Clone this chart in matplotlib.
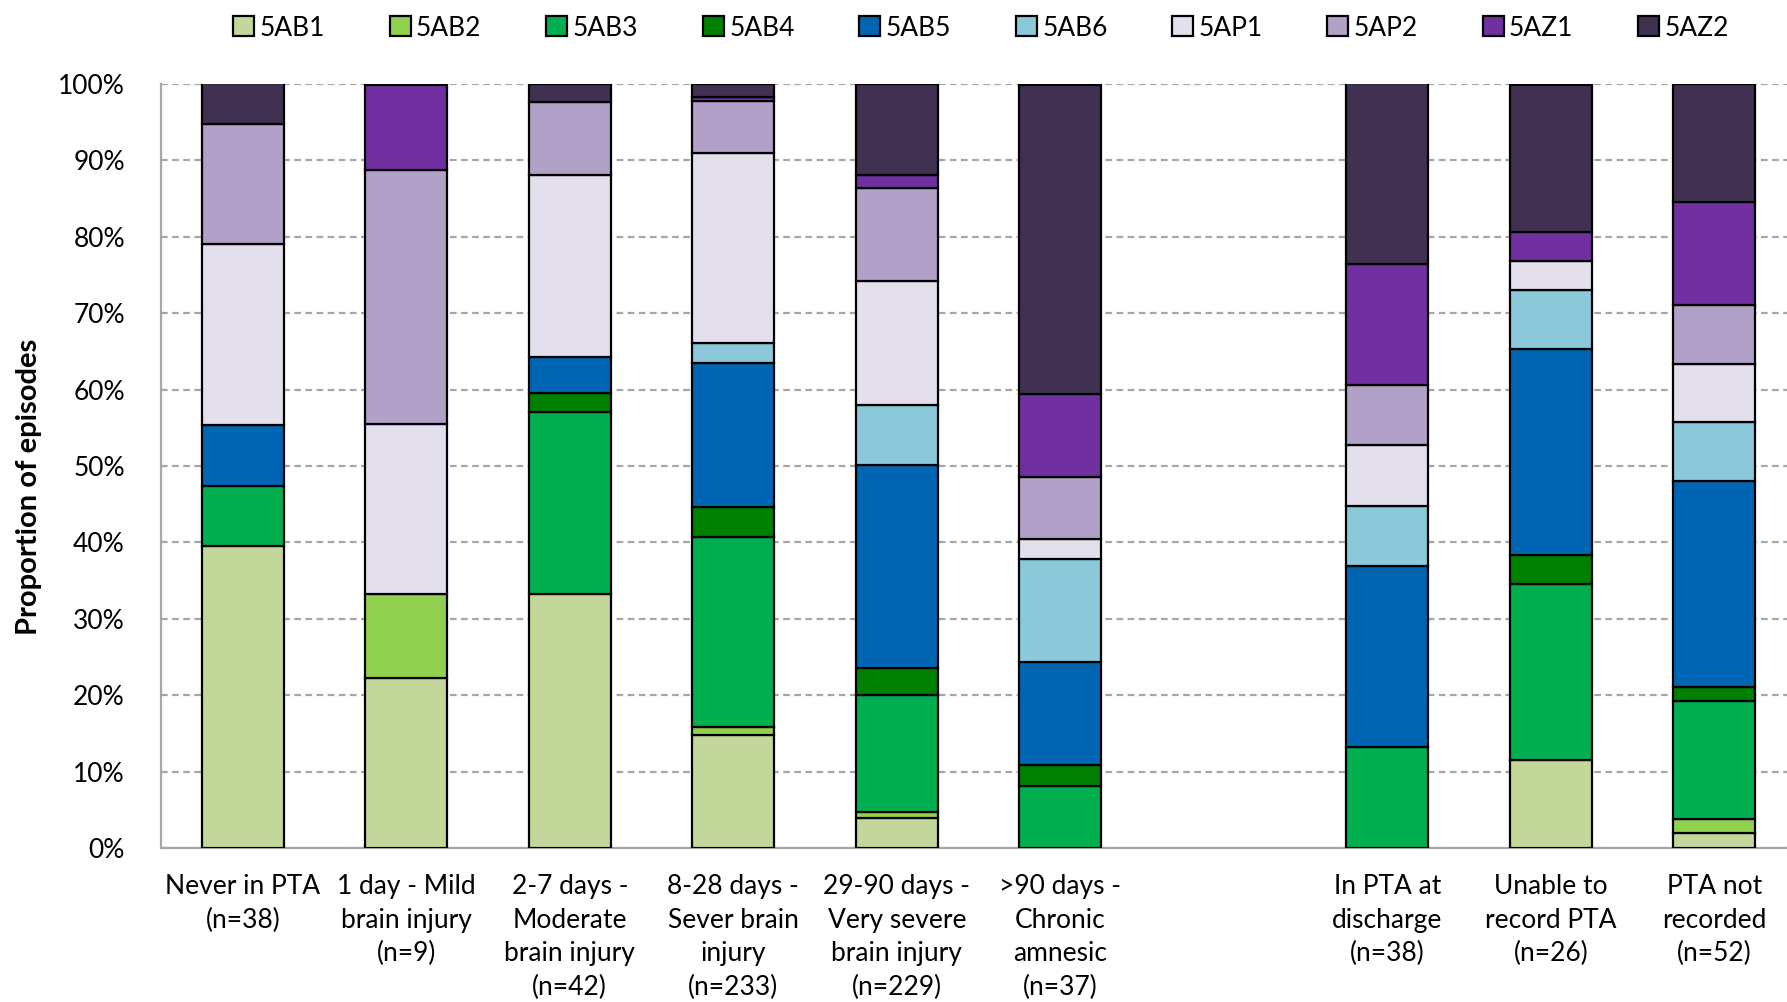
import matplotlib.pyplot as plt
from matplotlib.patches import Patch
import numpy as np

# カテゴリ（6本目と7本目の間は空き）
categories = [
    'Never in PTA\n(n=38)',
    '1 day - Mild\nbrain injury\n(n=9)',
    '2-7 days -\nModerate\nbrain injury\n(n=42)',
    '8-28 days -\nSever brain\ninjury\n(n=233)',
    '29-90 days -\nVery severe\nbrain injury\n(n=229)',
    '>90 days -\nChronic\namnesic\n(n=37)',
    'In PTA at\ndischarge\n(n=38)',
    'Unable to\nrecord PTA\n(n=26)',
    'PTA not\nrecorded\n(n=52)',
]
# 棒の位置（6番目の後に1本分の空き）
positions = [0, 1, 2, 3, 4, 5, 7, 8, 9]

series = ['5AB1', '5AB2', '5AB3', '5AB4', '5AB5', '5AB6', '5AP1', '5AP2', '5AZ1', '5AZ2']
colors = ['#C4D79B', '#92D050', '#00B050', '#008000', '#0066B3',
          '#8BC8D9', '#E4DFEC', '#B1A0C7', '#7030A0', '#403151']

# 各系列の割合（%）
ab1 = [39.5, 22.2, 33.3, 14.8, 3.9, 0.0, 0.0, 11.5, 1.9]
ab2 = [0.0, 11.1, 0.0, 1.0, 0.8, 0.0, 0.0, 0.0, 1.9]
ab3 = [7.9, 0.0, 23.8, 24.9, 15.3, 8.1, 13.2, 23.1, 15.4]
ab4 = [0.0, 0.0, 2.4, 3.9, 3.5, 2.7, 0.0, 3.8, 1.9]
ab5 = [7.9, 0.0, 4.8, 18.9, 26.6, 13.5, 23.7, 26.9, 26.9]
ab6 = [0.0, 0.0, 0.0, 2.6, 7.9, 13.5, 7.9, 7.7, 7.7]
ap1 = [23.7, 22.2, 23.8, 24.8, 16.2, 2.7, 7.9, 3.8, 7.7]
ap2 = [15.8, 33.3, 9.5, 6.9, 12.2, 8.1, 7.9, 0.0, 7.7]
az1 = [0.0, 11.1, 0.0, 0.5, 1.7, 10.8, 15.8, 3.8, 13.5]
az2 = [5.3, 0.0, 2.4, 1.7, 11.9, 40.5, 23.7, 19.2, 15.4]
values = [ab1, ab2, ab3, ab4, ab5, ab6, ap1, ap2, az1, az2]

plt.rcParams['font.family'] = ['Lato', 'DejaVu Sans']

fig = plt.figure(figsize=(17.87, 10.02), dpi=100)
ax = fig.add_axes([0.0901, 0.1537, 0.915, 0.7625])

x = np.array(positions)
bottom = np.zeros(len(categories))
for name, vals, col in zip(series, values, colors):
    vals = np.array(vals)
    keep = vals > 0
    ax.bar(x[keep], vals[keep], bottom=bottom[keep], width=0.5, color=col,
           edgecolor='black', linewidth=1.6, label=name, zorder=3)
    bottom += vals

ax.set_xlim(-0.5, 9.5)
ax.set_ylim(0, 100)
ax.set_yticks(np.arange(0, 101, 10))
ax.set_yticklabels([f'{v}%' for v in range(0, 101, 10)], fontsize=19)
ax.set_xticks(x)
ax.set_xticklabels(categories, fontsize=19, linespacing=1.42)
ax.tick_params(axis='both', length=0)
ax.tick_params(axis='y', pad=26)
ax.tick_params(axis='x', pad=19)

ax.grid(axis='y', color='#A6A6A6', linestyle=(0, (3, 2)), linewidth=1.6, zorder=0)
ax.set_axisbelow(True)
for s in ['top', 'right']:
    ax.spines[s].set_visible(False)
for s in ['left', 'bottom']:
    ax.spines[s].set_color('#A6A6A6')
    ax.spines[s].set_linewidth(1.6)

ax.set_ylabel('Proportion of episodes', fontsize=21, fontweight='bold')
ax.yaxis.set_label_coords(-0.073, 0.472)

handles = [Patch(facecolor=c, edgecolor='black', linewidth=1.6, label=n)
           for n, c in zip(series, colors)]
fig.legend(handles=handles, loc='center', bbox_to_anchor=(0.549, 0.972), ncol=10,
           frameon=False, fontsize=19, handlelength=0.8, handleheight=0.8,
           handletextpad=0.2, columnspacing=2.45)

plt.savefig('out.png', dpi=100)
